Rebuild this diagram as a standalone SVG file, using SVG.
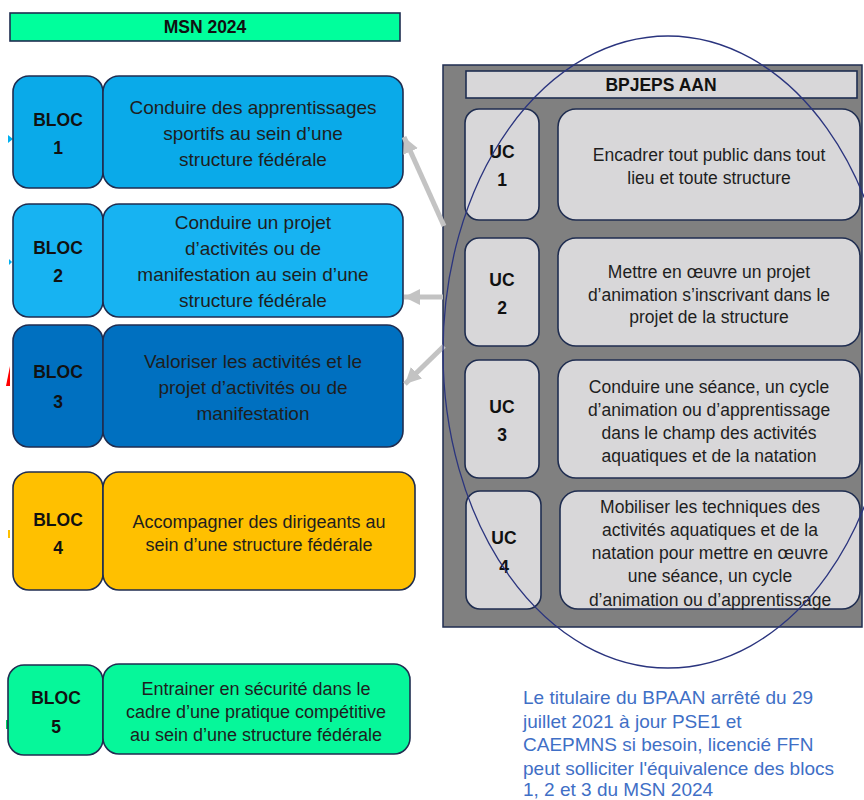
<svg xmlns="http://www.w3.org/2000/svg" width="864" height="800" viewBox="0 0 864 800">
<style>
.box{stroke:#1F2D50;stroke-width:1.6}
.lbl{font-family:"Liberation Sans",Arial,sans-serif;font-weight:bold;font-size:17.5px;fill:#111;text-anchor:middle}
.txt{font-family:"Liberation Sans",Arial,sans-serif;font-size:19px;fill:#1E1E1E;text-anchor:middle}
.uct{font-family:"Liberation Sans",Arial,sans-serif;font-size:17.5px;fill:#1E1E1E;text-anchor:middle}
.note{font-family:"Liberation Sans",Arial,sans-serif;font-size:19px;fill:#3F6FC6}
.uc{fill:#D8D7D9}
.arr{stroke:#C3C3C3;stroke-width:5;fill:none;marker-end:url(#ah)}
</style>
<defs>
<marker id="ah" markerUnits="userSpaceOnUse" markerWidth="18" markerHeight="18" refX="16" refY="8" orient="auto">
<path d="M0,0 L16,8 L0,16 Z" fill="#C3C3C3"/>
</marker>
</defs>
<rect width="864" height="800" fill="#FFFFFF"/>

<g id="msn-header">
<rect x="10" y="13" width="390" height="28" fill="#00FF9C" class="box"/>
<text x="205" y="33" class="lbl">MSN 2024</text>
</g>

<g id="artifacts">
<path d="M8,135 L13,139 L8,143 Z" fill="#00B0F0"/>
<path d="M9,259 L12,262 L9,265 Z" fill="#00B0F0"/>
<path d="M10,366 L6,386 L10,386 Z" fill="#FF0000"/>
<rect x="8" y="530" width="2" height="8" fill="#FFC000"/>
<rect x="6" y="720" width="2" height="9" fill="#00D060"/>
</g>

<g id="bloc1">
<rect x="13" y="76" width="90" height="112" rx="16" fill="#0AAAE9" class="box"/>
<rect x="103" y="76" width="300" height="112" rx="16" fill="#0AAAE9" class="box"/>
<text x="58" y="126" class="lbl">BLOC</text>
<text x="58" y="154" class="lbl">1</text>
<text class="txt"><tspan x="253" y="114">Conduire des apprentissages</tspan><tspan x="253" y="140">sportifs au sein d’une</tspan><tspan x="253" y="166">structure fédérale</tspan></text>
</g>

<g id="bloc2">
<rect x="13" y="204" width="90" height="113" rx="16" fill="#17B3F2" class="box"/>
<rect x="103" y="204" width="300" height="113" rx="16" fill="#17B3F2" class="box"/>
<text x="58" y="254" class="lbl">BLOC</text>
<text x="58" y="282" class="lbl">2</text>
<text class="txt"><tspan x="253" y="229">Conduire un projet</tspan><tspan x="253" y="255">d’activités ou de</tspan><tspan x="253" y="281">manifestation au sein d’une</tspan><tspan x="253" y="307">structure fédérale</tspan></text>
</g>

<g id="bloc3">
<rect x="13" y="325" width="90" height="122" rx="16" fill="#0070C0" class="box"/>
<rect x="103" y="325" width="300" height="122" rx="16" fill="#0070C0" class="box"/>
<text x="58" y="378" class="lbl">BLOC</text>
<text x="58" y="408" class="lbl">3</text>
<text class="txt"><tspan x="253" y="368">Valoriser les activités et le</tspan><tspan x="253" y="394">projet d’activités ou de</tspan><tspan x="253" y="420">manifestation</tspan></text>
</g>

<g id="bloc4">
<rect x="13" y="472" width="90" height="118" rx="16" fill="#FFC000" class="box"/>
<rect x="103" y="472" width="312" height="118" rx="16" fill="#FFC000" class="box"/>
<text x="58" y="526" class="lbl">BLOC</text>
<text x="58" y="554" class="lbl">4</text>
<text class="txt" style="font-size:18px"><tspan x="259" y="528">Accompagner des dirigeants  au</tspan><tspan x="259" y="551">sein d’une structure fédérale</tspan></text>
</g>

<g id="bloc5">
<rect x="8" y="665" width="95" height="90" rx="16" fill="#06F79A" class="box"/>
<rect x="103" y="664" width="307" height="90" rx="16" fill="#06F79A" class="box"/>
<text x="56" y="704" class="lbl">BLOC</text>
<text x="56" y="733" class="lbl">5</text>
<text class="txt" style="font-size:18px"><tspan x="256" y="695">Entrainer en sécurité dans le</tspan><tspan x="256" y="718">cadre d’une pratique compétitive</tspan><tspan x="256" y="741">au sein d’une structure fédérale</tspan></text>
</g>

<g id="bpjeps-panel">
<rect x="443" y="65" width="419" height="562" fill="#808080" stroke="#1F2D50" stroke-width="1.5"/>
<rect x="466" y="71" width="391" height="27" fill="#D8D7D9" class="box"/>
<text x="661" y="91" class="lbl">BPJEPS AAN</text>
</g>

<g id="uc1">
<rect x="465" y="109" width="74" height="111" rx="14" class="uc box"/>
<rect x="558" y="109" width="302" height="111" rx="18" class="uc box"/>
<text x="502" y="158" class="lbl">UC</text>
<text x="502" y="186" class="lbl">1</text>
<text class="uct"><tspan x="709" y="161">Encadrer tout public dans tout</tspan><tspan x="709" y="184">lieu et toute structure</tspan></text>
</g>

<g id="uc2">
<rect x="465" y="238" width="74" height="108" rx="14" class="uc box"/>
<rect x="558" y="238" width="302" height="108" rx="18" class="uc box"/>
<text x="502" y="286" class="lbl">UC</text>
<text x="502" y="314" class="lbl">2</text>
<text class="uct"><tspan x="709" y="278">Mettre en œuvre un projet</tspan><tspan x="709" y="301">d’animation s’inscrivant dans le</tspan><tspan x="709" y="323">projet de la structure</tspan></text>
</g>

<g id="uc3">
<rect x="465" y="360" width="74" height="118" rx="14" class="uc box"/>
<rect x="558" y="360" width="302" height="118" rx="18" class="uc box"/>
<text x="502" y="413" class="lbl">UC</text>
<text x="502" y="441" class="lbl">3</text>
<text class="uct"><tspan x="709" y="393">Conduire une séance, un cycle</tspan><tspan x="709" y="416">d’animation ou d’apprentissage</tspan><tspan x="709" y="439">dans le champ des activités</tspan><tspan x="709" y="462">aquatiques et de la natation</tspan></text>
</g>

<g id="uc4">
<rect x="466" y="491" width="75" height="118" rx="14" class="uc box"/>
<rect x="560" y="491" width="300" height="118" rx="18" class="uc box"/>
<text x="504" y="544" class="lbl">UC</text>
<text x="504" y="573" class="lbl">4</text>
<text class="uct"><tspan x="710" y="513">Mobiliser les techniques des</tspan><tspan x="710" y="536">activités aquatiques et de la</tspan><tspan x="710" y="559">natation pour mettre en œuvre</tspan><tspan x="710" y="582">une séance, un cycle</tspan><tspan x="710" y="606">d’animation ou d’apprentissage</tspan></text>
</g>

<g id="connectors">
<line x1="444" y1="226" x2="404" y2="137" class="arr"/>
<line x1="443" y1="297" x2="404" y2="297" class="arr"/>
<line x1="444" y1="346" x2="405" y2="384" class="arr"/>
</g>

<g id="ellipse">
<ellipse cx="668" cy="352" rx="225" ry="316" fill="none" stroke="#2A347E" stroke-width="1.3"/>
</g>

<g id="note">
<text class="note"><tspan x="523" y="704">Le titulaire du BPAAN arrêté du 29</tspan><tspan x="523" y="727.5">juillet 2021 à jour PSE1 et</tspan><tspan x="523" y="751">CAEPMNS si besoin, licencié FFN</tspan><tspan x="523" y="774.5">peut solliciter l'équivalence des blocs</tspan><tspan x="523" y="796">1, 2 et 3 du MSN 2024</tspan></text>
</g>
</svg>
